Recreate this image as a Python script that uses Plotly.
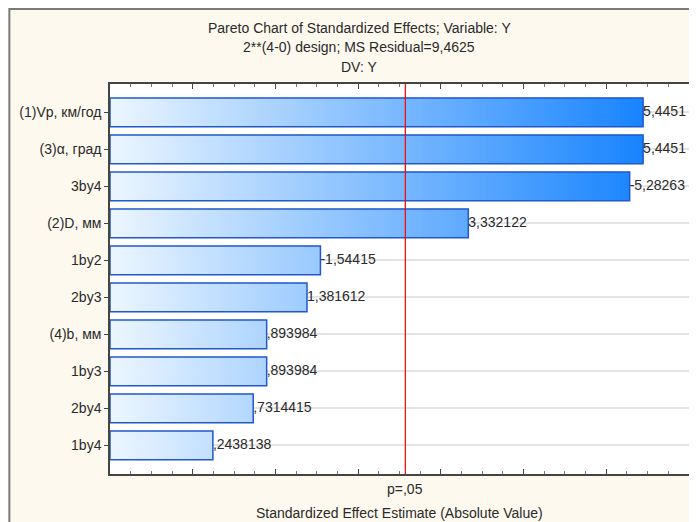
import plotly.graph_objects as go

# ---- data ----
categories = ["(1)Vp, км/год", "(3)α, град", "3by4", "(2)D, мм", "1by2",
              "2by3", "(4)b, мм", "1by3", "2by4", "1by4"]
effects = [5.4451, 5.4451, -5.28263, 3.332122, -1.54415, 1.381612,
           0.893984, 0.893984, 0.7314415, 0.2438138]
p05_limit = 2.5706
x_min, x_max = -1.0, 6.0

title_lines = ["Pareto Chart of Standardized Effects; Variable: Y",
               "2**(4-0) design; MS Residual=9,4625",
               "DV: Y"]
x_title = "Standardized Effect Estimate (Absolute Value)"
p_label = "p=,05"


def fmt(v):
    s = str(v).replace(".", ",")
    s = s.replace("-0,", "-,")
    if s.startswith("0,"):
        s = s[1:]
    return s


abs_vals = [abs(v) for v in effects]
labels = [fmt(v) for v in effects]
vmax = max(abs_vals)

# gradient fill built from overlapping segments of each bar
light = (236, 246, 255)
dark = (24, 132, 255)
N = 140
step = (vmax - x_min) / N
seg_y, seg_base, seg_w, seg_col = [], [], [], []
for cat, v in zip(categories, abs_vals):
    for i in range(N):
        a = x_min + i * step
        if a >= v:
            break
        b = min(a + 2 * step, v)
        t = (a + step / 2 - x_min) / (vmax - x_min)
        c = tuple(round(light[k] + (dark[k] - light[k]) * t) for k in range(3))
        seg_y.append(cat)
        seg_base.append(a)
        seg_w.append(b - a)
        seg_col.append("rgb(%d,%d,%d)" % c)

FS = 14
font = "Liberation Sans, Arial, sans-serif"
txt = "#2a2a2a"

fig = go.Figure()
fig.add_trace(go.Bar(
    y=seg_y, x=seg_w, base=seg_base, orientation="h", width=0.78,
    marker=dict(color=seg_col, line=dict(width=0)),
    hoverinfo="skip", showlegend=False))
fig.add_trace(go.Bar(
    y=categories, x=[v - x_min for v in abs_vals], base=[x_min] * len(abs_vals),
    orientation="h", width=0.78,
    marker=dict(color="rgba(0,0,0,0)", line=dict(color="#2158cc", width=1.5)),
    showlegend=False))
fig.add_trace(go.Scatter(
    y=categories, x=abs_vals, mode="text", text=labels,
    textposition="middle right", cliponaxis=True,
    textfont=dict(family=font, size=FS, color=txt),
    showlegend=False, hoverinfo="skip"))

# p = .05 line
fig.add_shape(type="line", xref="x", yref="paper", x0=p05_limit, x1=p05_limit,
              y0=0, y1=1, line=dict(color="#ff0000", width=1.2), layer="above")

# page geometry (the page body adds an 8px offset, which gives the white edge)
OFF = 8
W, H = 697 - OFF, 522 - OFF
PL, PR, PT, PB = 110, 691, 84, 474          # plot area in page pixels
L, R, T, B = PL - OFF, W - (PR - OFF), PT - OFF, H - (PB - OFF)
pw, ph = W - L - R, H - T - B
def px(x): return (x - OFF - L) / pw
def py(y): return 1 + (T - (y - OFF)) / ph

# frame line around chart (extends past right/bottom edges)
fig.add_shape(type="rect", xref="paper", yref="paper", x0=px(9), x1=px(740),
              y0=py(560), y1=py(9), fillcolor="rgba(0,0,0,0)",
              line=dict(color="#7a7a7a", width=2), layer="below")

for i, line in enumerate(title_lines):
    fig.add_annotation(text=line, xref="paper", yref="paper",
                       x=px(360), y=py(28 + i * 19.5), showarrow=False,
                       font=dict(family=font, size=FS, color=txt),
                       xanchor="center", yanchor="middle")
fig.add_annotation(text=p_label, xref="x", yref="paper", x=p05_limit, y=py(489),
                   showarrow=False, xanchor="center", yanchor="middle",
                   font=dict(family=font, size=FS, color=txt))
fig.add_annotation(text=x_title, xref="paper", yref="paper", x=0.5, y=py(512.5),
                   showarrow=False, xanchor="center", yanchor="middle",
                   font=dict(family=font, size=FS, color=txt))

fig.update_layout(
    width=W, height=H,
    margin=dict(l=L, r=R, t=T, b=B, pad=0),
    paper_bgcolor="#fdf9ef", plot_bgcolor="white",
    barmode="overlay", bargap=0.2,
    font=dict(family=font, size=FS, color=txt),
    xaxis=dict(range=[x_min, x_max], tick0=0, dtick=1, ticks="inside", ticklen=5,
               tickcolor="#444", showticklabels=False, showgrid=False, zeroline=False,
               showline=True, linecolor="#444", linewidth=1.5, mirror="ticks",
               minor=dict(dtick=0.25, ticks="inside", ticklen=3, tickcolor="#777",
                          showgrid=False)),
    yaxis=dict(type="category", categoryorder="array", categoryarray=categories,
               range=[len(categories) - 1 + 0.775, -0.765],
               ticks="outside", ticklen=4, tickcolor="#444",
               showgrid=True, gridcolor="#e4e4e4", gridwidth=2,
               showline=True, linecolor="#444", linewidth=1.5, mirror=True,
               tickfont=dict(family=font, size=FS, color=txt)),
)

fig.write_html("out.html")
